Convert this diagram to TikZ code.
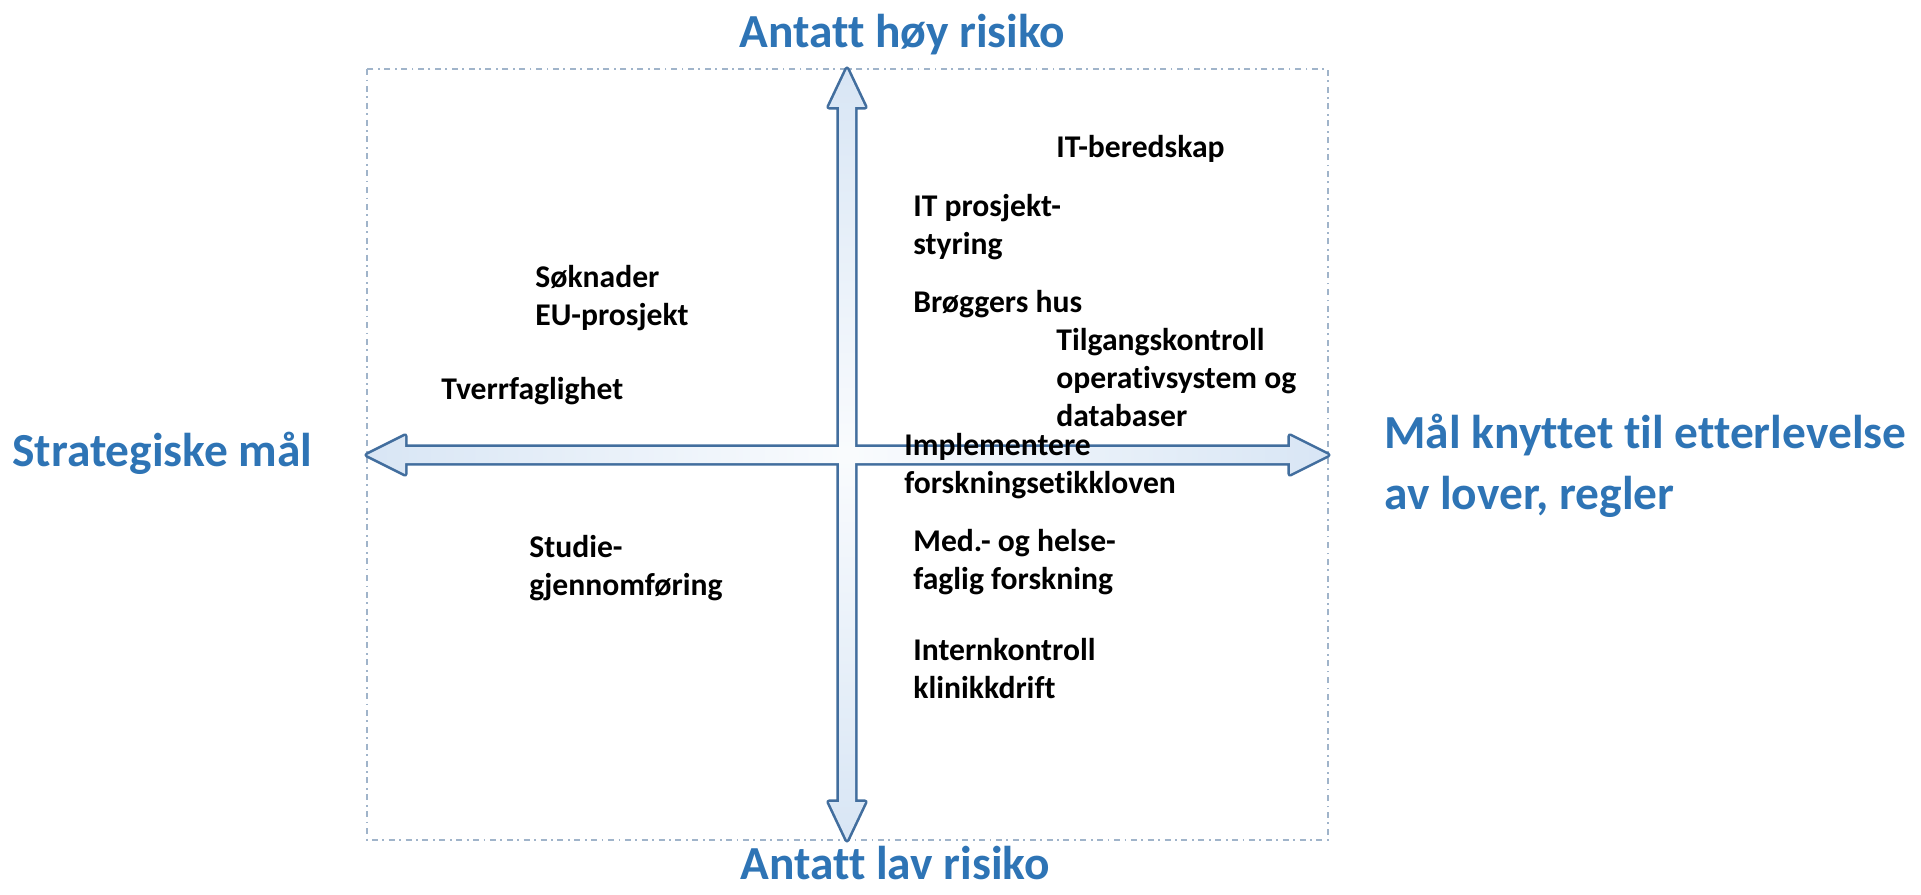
\documentclass[tikz,border=0pt]{standalone}
\usepackage{fontspec}
\setmainfont[Ligatures=NoCommon]{Carlito}
\usepackage{tikz}

\definecolor{headblue}{RGB}{46,116,181}
\definecolor{arrowline}{RGB}{66,110,158}
\definecolor{arrowfill}{RGB}{183,208,236}
\definecolor{boxline}{RGB}{160,180,202}
\pgfdeclarehorizontalshading{armfade}{100bp}{color(0bp)=(arrowfill); color(50bp)=(white!92!arrowfill); color(100bp)=(arrowfill)}

\begin{document}
\begin{tikzpicture}[x=0.02cm, y=-0.02cm,
  head/.style={inner sep=0pt, text=headblue, align=left, font=\fontsize{27}{34.6}\selectfont\bfseries},
  item/.style={inner sep=0pt, align=left, font=\fontsize{18}{21.5}\selectfont\bfseries},
  outline/.style={draw=arrowline, line width=3pt, line join=round},
  inside/.style={shading=armfade}]
\useasboundingbox (0,0) rectangle (1921,895);

% frame
\path[draw,boxline,line width=1pt,dash pattern=on 3.4pt off 2.6pt on 1pt off 2.6pt] (367,69) rectangle (1328,840);

% axes: outlines first, then fills on top so the crossing merges
\path[outline] (367,455) -- (405,436) -- (405,447) -- (1290,447) -- (1290,436) -- (1328,455) -- (1290,474) -- (1290,463) -- (405,463) -- (405,474) -- cycle;
\path[outline] (847,69) -- (865,107) -- (855,107) -- (855,802) -- (865,802) -- (847,840) -- (829,802) -- (839,802) -- (839,107) -- (829,107) -- cycle;
\path[inside] (367,455) -- (405,436) -- (405,447) -- (1290,447) -- (1290,436) -- (1328,455) -- (1290,474) -- (1290,463) -- (405,463) -- (405,474) -- cycle;
\path[inside,shading angle=90] (847,69) -- (865,107) -- (855,107) -- (855,802) -- (865,802) -- (847,840) -- (829,802) -- (839,802) -- (839,107) -- (829,107) -- cycle;

% axis labels
\node[head, anchor=west] (hi) at (739,35) {Antatt høy risiko};
\node[head, anchor=west] (lo) at (740,863) {Antatt lav risiko};
\node[head, anchor=west] (strat) at (12,453) {Strategiske mål};
\node[head, anchor=west] (lov) at (1384,466) {Mål knyttet til etterlevelse\\av lover, regler};

% goals
\node[item, anchor=north west] (itb) at (1056,135) {IT-beredskap};
\node[item, anchor=north west] (itp) at (913,194) {IT prosjekt-\\styring};
\node[item, anchor=north west] (sok) at (535,265) {Søknader\\EU-prosjekt};
\node[item, anchor=north west] (brg) at (913,290) {Brøggers hus};
\node[item, anchor=north west] (tlg) at (1056,328) {Tilgangskontroll\\operativsystem og\\databaser};
\node[item, anchor=north west] (tvf) at (441,377) {Tverrfaglighet};
\node[item, anchor=north west] (imp) at (904,433) {Implementere\\forskningsetikkloven};
\node[item, anchor=north west] (stu) at (529,535) {Studie-\\gjennomføring};
\node[item, anchor=north west] (med) at (913,529) {Med.- og helse-\\faglig forskning};
\node[item, anchor=north west] (ink) at (913,638) {Internkontroll\\klinikkdrift};
\end{tikzpicture}
\end{document}
